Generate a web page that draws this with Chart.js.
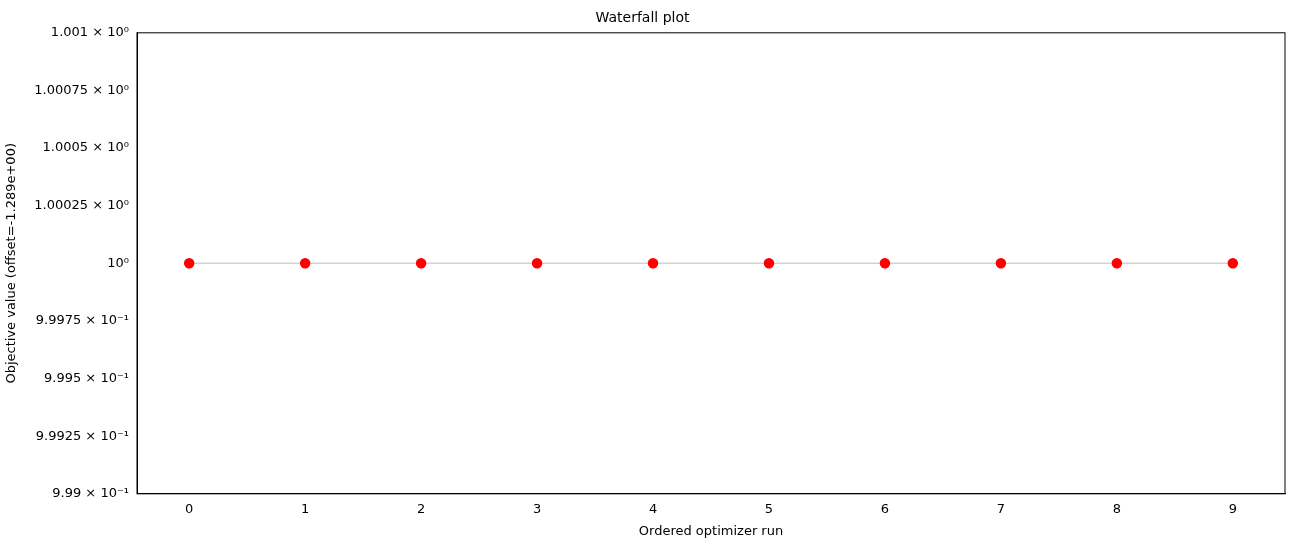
<!DOCTYPE html>
<html><head><meta charset="utf-8">
<script src="https://cdn.jsdelivr.net/npm/chart.js@4/dist/chart.umd.min.js"></script>
<style>html,body{margin:0;padding:0;background:#fff}#w{width:1309px;height:547px}</style>
</head><body><div id="w"><canvas id="c"></canvas></div>
<script>
const runs = [0,1,2,3,4,5,6,7,8,9];
const values = [1,1,1,1,1,1,1,1,1,1];
const yTickValues = [0.999,0.99925,0.9995,0.99975,1,1.00025,1.0005,1.00075,1.001];
const yTickLabels = ['9.99 × 10⁻¹','9.9925 × 10⁻¹','9.995 × 10⁻¹','9.9975 × 10⁻¹','10⁰','1.00025 × 10⁰','1.0005 × 10⁰','1.00075 × 10⁰','1.001 × 10⁰'];
const xTicks = [0,1,2,3,4,5,6,7,8,9];
const font = {family:'DejaVu Sans', size:13};
Chart.defaults.color = '#000';
new Chart(document.getElementById('c'), {
  type:'scatter',
  data:{datasets:[{
    data: runs.map((r,i)=>({x:r,y:values[i]})),
    showLine:true, borderColor:'#d3d3d3', borderWidth:1.5,
    pointBackgroundColor:'#ff0000', pointBorderColor:'#ff0000', pointRadius:4.5
  }]},
  options:{
    responsive:true, maintainAspectRatio:false, animation:false,
    layout:{padding:{left:0,right:24,top:0,bottom:4}},
    plugins:{legend:{display:false}, tooltip:{enabled:false},
      title:{display:true,text:'Waterfall plot',font:{family:'DejaVu Sans',size:14,weight:'normal'},color:'#000',padding:{top:10,bottom:6}}},
    scales:{
      x:{min:-0.45,max:9.45,
        afterBuildTicks:a=>{a.ticks=xTicks.map(v=>({value:v}));},
        ticks:{font, color:'#000', padding:4},
        grid:{display:false, drawTicks:true, tickLength:4, tickColor:'#000'},
        border:{color:'#000'},
        title:{display:true,text:'Ordered optimizer run',font,color:'#000',padding:{top:2}}},
      y:{min:0.999,max:1.001,
        afterFit:a=>{a.width=137;},
        afterBuildTicks:a=>{a.ticks=yTickValues.map(v=>({value:v}));},
        ticks:{font, color:'#000', padding:4, callback:(v,i)=>yTickLabels[i]},
        grid:{display:false, drawTicks:true, tickLength:4, tickColor:'#000'},
        border:{color:'#000'},
        title:{display:true,text:'Objective value (offset=-1.289e+00)',font,color:'#000'}}
    }
  },
  plugins:[{id:'frame',afterDraw(c){const a=c.chartArea,x=c.ctx;x.save();x.strokeStyle='#000';x.lineWidth=1;x.strokeRect(a.left,a.top,a.right-a.left,a.bottom-a.top);x.restore();}}]
});
</script></body></html>
